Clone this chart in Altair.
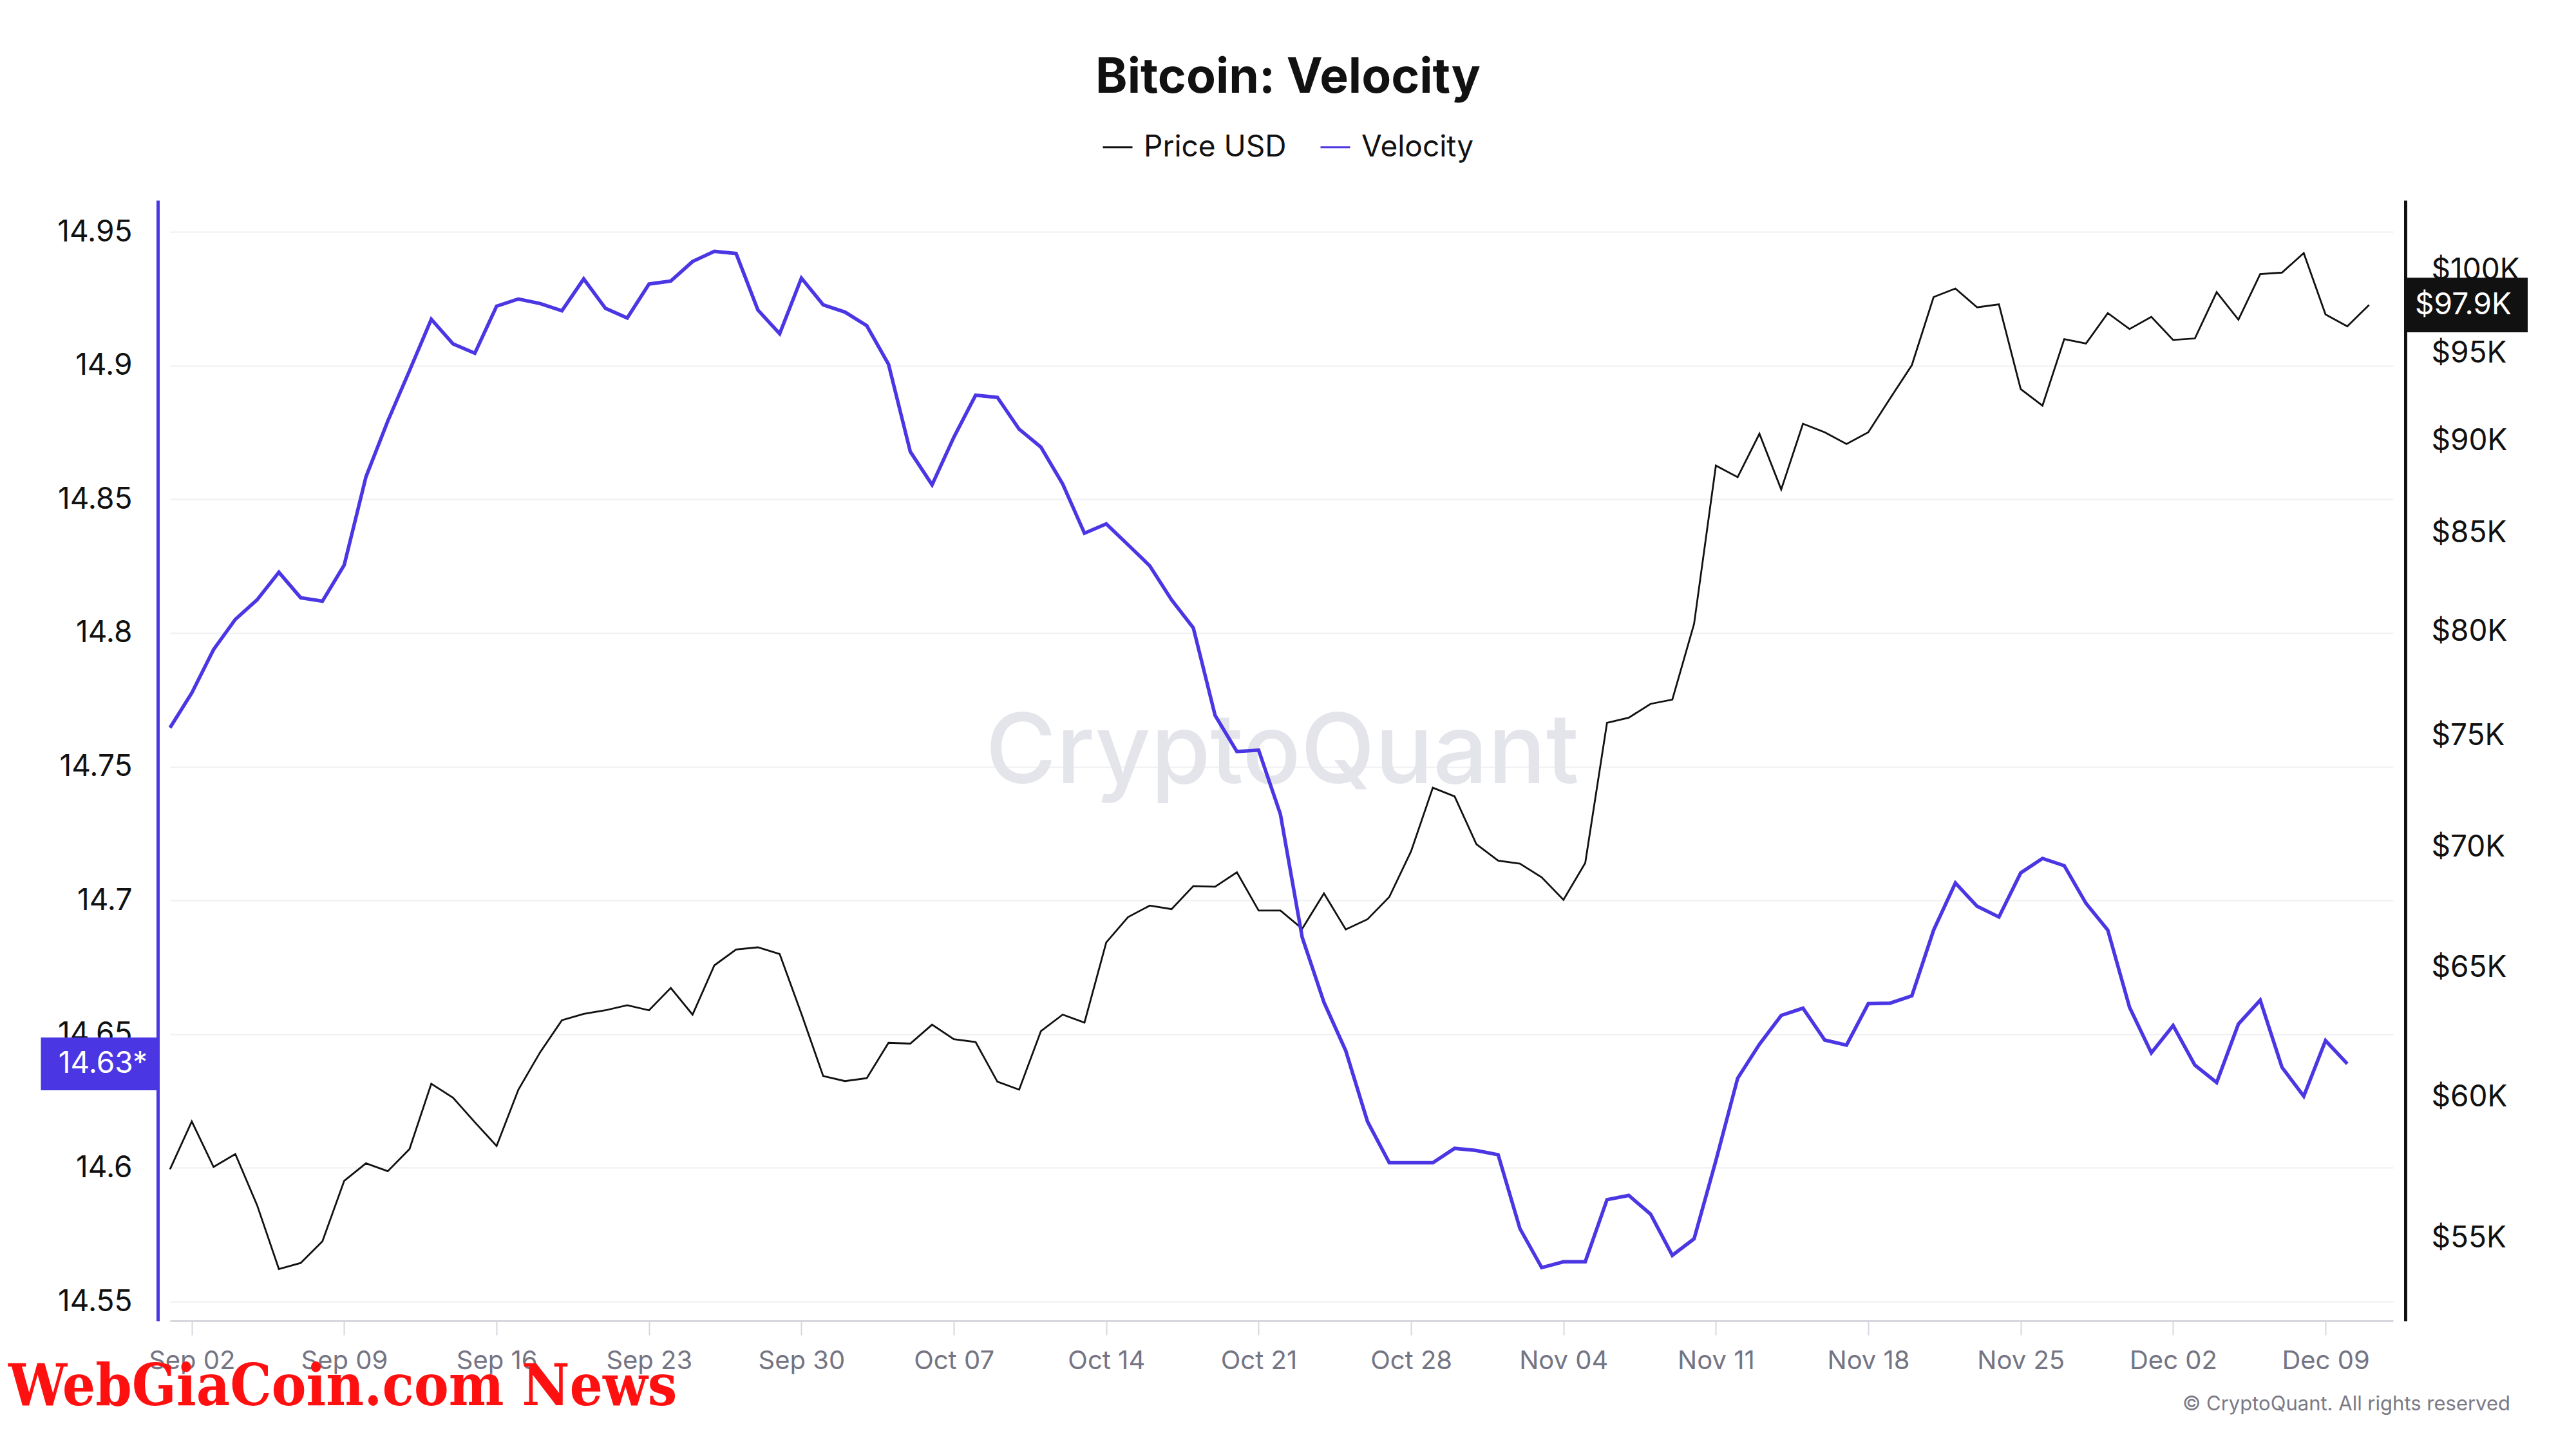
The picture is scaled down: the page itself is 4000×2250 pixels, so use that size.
import altair as alt
import pandas as pd
from datetime import datetime

# ---------------- data ----------------
title_text = "Bitcoin: Velocity"
series_names = ["Price USD", "Velocity"]
series_colors = ["#111111", "#4b36e3"]
start_date = "2024-09-01"

price_k = [
    57.38, 59.10, 57.46, 57.92, 56.12, 53.95, 54.15, 54.88, 56.97, 57.59, 57.31, 58.10, 60.49, 59.97, 59.07, 58.21, 60.27,
    61.68, 62.91, 63.16, 63.30, 63.50, 63.30, 64.18, 63.13, 65.08, 65.72, 65.81, 65.54, 63.16, 60.78, 60.59, 60.70, 62.04,
    62.01, 62.74, 62.18, 62.07, 60.57, 60.27, 62.49, 63.13, 62.82, 66.01, 67.05, 67.53, 67.38, 68.35, 68.32, 68.93, 67.32,
    67.32, 66.57, 68.04, 66.54, 66.96, 67.89, 69.83, 72.63, 72.24, 70.14, 69.43, 69.30, 68.72, 67.77, 69.33, 75.60, 75.84,
    76.49, 76.69, 80.37, 88.62, 87.99, 90.38, 87.32, 90.94, 90.46, 89.81, 90.46, 92.37, 94.29, 98.34, 98.86, 97.72,
    97.90, 92.91, 91.96, 95.82, 95.56, 97.37, 96.42, 97.15, 95.77, 95.86, 98.64, 96.98, 99.75, 99.84, 101.05, 97.29, 96.58, 97.86,
]

velocity = [
    14.7646, 14.7776, 14.7938, 14.8051, 14.8124, 14.8227, 14.8132, 14.8119, 14.8254, 14.8584,
    14.8792, 14.8981, 14.9173, 14.9081, 14.9046, 14.9222, 14.9249, 14.9232, 14.9205, 14.9324,
    14.9214, 14.9178, 14.9305, 14.9316, 14.9389, 14.9427, 14.9419, 14.9208, 14.9119, 14.9327,
    14.9227, 14.9200, 14.9149, 14.9005, 14.8678, 14.8554, 14.8732, 14.8889, 14.8881, 14.8762,
    14.8695, 14.8557, 14.8373, 14.8408, 14.8330, 14.8251, 14.8124, 14.8019, 14.7692, 14.7557,
    14.7562, 14.7322, 14.6862, 14.6619, 14.6438, 14.6173, 14.6019, 14.6019, 14.6019, 14.6073,
    14.6065, 14.6049, 14.5773, 14.5627, 14.5649, 14.5649, 14.5881, 14.5897, 14.5827, 14.5673,
    14.5735, 14.6027, 14.6335, 14.6462, 14.6570, 14.6597, 14.6478, 14.6459, 14.6614, 14.6616,
    14.6643, 14.6889, 14.7065, 14.6978, 14.6938, 14.7103, 14.7157, 14.7130, 14.6989, 14.6889,
    14.6600, 14.6430, 14.6532, 14.6384, 14.6319, 14.6538, 14.6627, 14.6376, 14.6268, 14.6476,
    14.6389,
]

tick_labels = ["Sep 02", "Sep 09", "Sep 16", "Sep 23", "Sep 30", "Oct 07", "Oct 14", "Oct 21",
               "Oct 28", "Nov 04", "Nov 11", "Nov 18", "Nov 25", "Dec 02", "Dec 09"]
velocity_ticks = [14.55, 14.6, 14.65, 14.7, 14.75, 14.8, 14.85, 14.9, 14.95]
price_ticks = [55000, 60000, 65000, 70000, 75000, 80000, 85000, 90000, 95000, 100000]
velocity_domain = [14.5428, 14.9618]
price_domain = [52250, 104400]
velocity_tag = ["14.63*"]
price_tag = ["$97.9K"]
watermark_text = ["CryptoQuant"]
copyright_text = ["\u00a9 CryptoQuant. All rights reserved"]
site_text = ["WebGiaCoin.com News"]

# ---------------- layout ----------------
W, H = 3452, 1740
FONT = "Inter"

price_dates = pd.date_range(start_date, periods=len(price_k), freq="D").strftime("%Y-%m-%d").tolist()
vel_dates = pd.date_range(start_date, periods=len(velocity), freq="D").strftime("%Y-%m-%d").tolist()

df = pd.concat([
    pd.DataFrame({"date": price_dates, "series": series_names[0], "value": [p * 1000 for p in price_k]}),
    pd.DataFrame({"date": vel_dates, "series": series_names[1], "value": velocity}),
], ignore_index=True)


def to_dt(label):
    d = datetime.strptime(label + " 2024", "%b %d %Y")
    return alt.DateTime(year=d.year, month=d.month, date=d.day, utc=True)


tick_values = [to_dt(t) for t in tick_labels]
x_domain = [alt.DateTime(year=2024, month=9, date=1, utc=True),
            alt.DateTime(year=2024, month=12, date=12, hours=2, minutes=30, utc=True)]

x_enc = alt.X(
    "date:T", title=None,
    scale=alt.Scale(type="utc", domain=x_domain),
    axis=alt.Axis(values=tick_values, format="%b %d", labelFontSize=40, labelColor="#747483",
                  labelFont=FONT, tickColor="#d6d6de", tickWidth=2, tickSize=22,
                  domainColor="#d6d6de", domainWidth=3, grid=False, labelPadding=20,
                  labelFlush=False, labelOverlap=False),
)

color_enc = alt.Color(
    "series:N",
    scale=alt.Scale(domain=series_names, range=series_colors),
    legend=alt.Legend(orient="none", legendX=1447, legendY=-107, direction="horizontal", title=None,
                      symbolType="stroke", symbolStrokeWidth=3, symbolSize=2116,
                      labelFontSize=46, labelFont=FONT, labelColor="#111111", labelOffset=16,
                      labelLimit=600, columnPadding=46),
)

price_scale = alt.Scale(type="log", domain=price_domain, nice=False, zero=False)
vel_scale = alt.Scale(type="linear", domain=velocity_domain, nice=False, zero=False)

price_axis = alt.Axis(orient="right", values=price_ticks, offset=19,
                      labelExpr="'$' + format(datum.value / 1000, 'd') + 'K'",
                      labelFontSize=46, labelFont=FONT, labelColor="#111111", labelPadding=40,
                      ticks=False, tickSize=0, domainColor="#111111", domainWidth=5, grid=False)
vel_axis = alt.Axis(orient="left", values=velocity_ticks, offset=19, format=".2~f",
                    labelFontSize=46, labelFont=FONT, labelColor="#111111", labelPadding=40,
                    ticks=False, tickSize=0, domainColor=series_colors[1], domainWidth=5,
                    grid=True, gridColor="#f0f0f3", gridWidth=2)

# ---- price group (right axis) ----
price_y = alt.Y("value:Q", title=None, scale=price_scale, axis=price_axis)
price_line = alt.Chart(df).transform_filter(alt.datum.series == series_names[0]).mark_line(
    strokeWidth=2.8
).encode(x=x_enc, y=price_y, color=color_enc)

price_tag_df = pd.DataFrame({"value": [price_k[-1] * 1000], "label": price_tag})
price_tag_box = alt.Chart(price_tag_df).mark_point(
    shape="M-1,-0.452L1,-0.452L1,0.452L-1,0.452Z", size=188 * 188, filled=True,
    color="#111111", opacity=1, strokeWidth=0
).encode(x=alt.value(3567), y=price_y)
price_tag_txt = alt.Chart(price_tag_df).mark_text(
    font=FONT, fontSize=46, color="white", align="center", baseline="middle"
).encode(x=alt.value(3561), y=price_y, text="label:N")

price_group = alt.layer(price_line, price_tag_box, price_tag_txt)

# ---- velocity group (left axis) ----
vel_y = alt.Y("value:Q", title=None, scale=vel_scale, axis=vel_axis)
vel_line = alt.Chart(df).transform_filter(alt.datum.series == series_names[1]).mark_line(
    strokeWidth=5.5
).encode(x=x_enc, y=vel_y, color=color_enc)

vel_tag_df = pd.DataFrame({"value": [velocity[-1]], "label": velocity_tag})
vel_tag_box = alt.Chart(vel_tag_df).mark_point(
    shape="M-1,-0.453L1,-0.453L1,0.453L-1,0.453Z", size=181 * 181, filled=True,
    color=series_colors[1], opacity=1, strokeWidth=0
).encode(x=alt.value(-110), y=vel_y)
vel_tag_txt = alt.Chart(vel_tag_df).mark_text(
    font=FONT, fontSize=46, color="white", align="center", baseline="middle"
).encode(x=alt.value(-104), y=vel_y, text="label:N")

vel_group = alt.layer(vel_line, vel_tag_box, vel_tag_txt)

# ---- decorations ----
watermark = alt.Chart(pd.DataFrame({"t": watermark_text})).mark_text(
    font=FONT, fontSize=150, fontWeight=500, color="#e4e4eb", align="center", baseline="middle"
).encode(x=alt.value(1727), y=alt.value(860), text="t:N")

copyright_mark = alt.Chart(pd.DataFrame({"t": copyright_text})).mark_text(
    font=FONT, fontSize=31, color="#7a7a86", align="right", baseline="middle"
).encode(x=alt.value(3634), y=alt.value(1870), text="t:N")

site_mark = alt.Chart(pd.DataFrame({"t": site_text})).mark_text(
    font="DejaVu Serif Condensed", fontSize=90, fontWeight="bold", color="#ff1010",
    align="left", baseline="alphabetic"
).encode(x=alt.value(-251), y=alt.value(1871), text="t:N")

chart = alt.layer(
    watermark, price_group, vel_group, copyright_mark, site_mark
).resolve_scale(
    y="independent"
).properties(
    width=W, height=H,
    padding={"left": 256, "top": 303, "right": 240, "bottom": 180},
    autosize=alt.AutoSizeParams(type="none"),
    background="white",
    title=alt.TitleParams(title_text, fontSize=75, font=FONT, fontWeight="bold", color="#111111",
                          anchor="middle", offset=44, dx=10),
).configure_view(stroke=None)

chart.save("out.html", embed_options={"renderer": "svg", "actions": False})
